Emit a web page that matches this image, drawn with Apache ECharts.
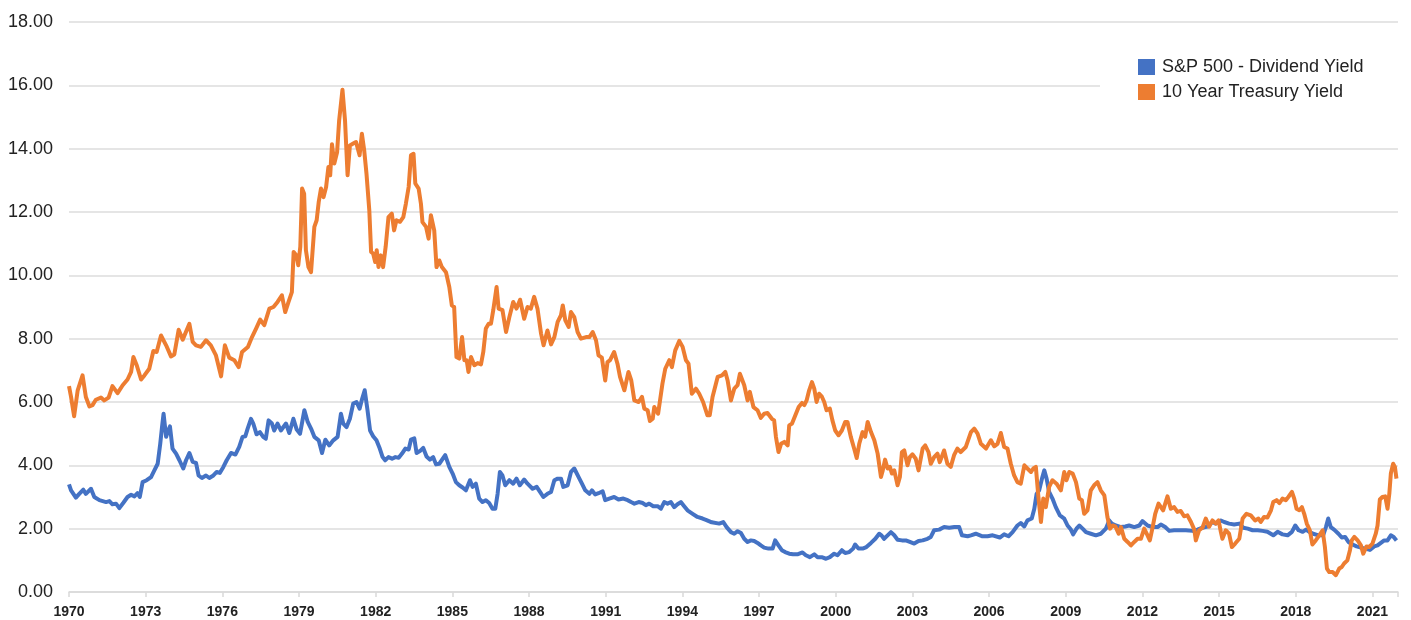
<!DOCTYPE html>
<html>
<head>
<meta charset="utf-8">
<title>S&amp;P 500 dividend yield vs 10 year treasury yield</title>
<script src="https://cdn.jsdelivr.net/npm/echarts@6/dist/echarts.min.js"></script>
<style>
  html, body { margin: 0; padding: 0; background: #fff; }
  #main { width: 1411px; height: 620px; }
</style>
</head>
<body>
<div id="main"></div>
<script>
// series names, as in the legend
var seriesNames = ['S&P 500 - Dividend Yield', '10 Year Treasury Yield'];

// x tick labels (every 3 years) and y tick labels
var yearTicks = [1970, 1973, 1976, 1979, 1982, 1985, 1988, 1991, 1994, 1997, 2000, 2003, 2006, 2009, 2012, 2015, 2018, 2021];
var yieldTicks = [0, 2, 4, 6, 8, 10, 12, 14, 16, 18];

// [year, value] pairs
var dividendYield = [
  [1970.0,3.4],[1970.08,3.21],[1970.27,2.98],[1970.4,3.1],[1970.56,3.23],[1970.66,3.1],[1970.86,3.26],[1970.99,3.0],
  [1971.19,2.9],[1971.45,2.84],[1971.58,2.87],[1971.7,2.77],[1971.84,2.79],[1971.97,2.65],[1972.12,2.81],[1972.29,3.0],
  [1972.43,3.07],[1972.56,3.02],[1972.68,3.12],[1972.77,3.0],[1972.88,3.47],[1973.04,3.53],[1973.21,3.63],[1973.34,3.84],
  [1973.47,4.05],[1973.57,4.68],[1973.64,5.21],[1973.7,5.63],[1973.8,4.9],[1973.86,5.05],[1973.95,5.23],[1974.05,4.53],
  [1974.19,4.37],[1974.32,4.16],[1974.47,3.9],[1974.58,4.16],[1974.71,4.39],[1974.84,4.11],[1974.97,4.08],[1975.07,3.68],
  [1975.2,3.6],[1975.36,3.68],[1975.49,3.6],[1975.65,3.68],[1975.78,3.79],[1975.9,3.76],[1976.04,3.95],[1976.17,4.16],
  [1976.34,4.39],[1976.51,4.34],[1976.66,4.58],[1976.79,4.9],[1976.9,4.92],[1976.99,5.16],[1977.12,5.47],[1977.21,5.32],
  [1977.34,4.98],[1977.47,5.05],[1977.6,4.9],[1977.7,4.84],[1977.81,5.42],[1977.94,5.32],[1978.03,5.1],[1978.16,5.32],
  [1978.29,5.1],[1978.49,5.32],[1978.62,5.02],[1978.78,5.47],[1978.91,5.13],[1979.04,5.0],[1979.21,5.74],[1979.34,5.37],
  [1979.47,5.16],[1979.6,4.9],[1979.77,4.79],[1979.9,4.39],[1980.03,4.81],[1980.18,4.63],[1980.34,4.79],[1980.51,4.9],
  [1980.64,5.63],[1980.73,5.32],[1980.86,5.21],[1980.99,5.47],[1981.12,5.95],[1981.25,6.0],[1981.37,5.79],[1981.47,6.1],
  [1981.57,6.37],[1981.68,5.74],[1981.78,5.1],[1981.9,4.92],[1982.03,4.79],[1982.16,4.53],[1982.27,4.26],[1982.37,4.16],
  [1982.5,4.26],[1982.64,4.21],[1982.77,4.26],[1982.9,4.24],[1983.03,4.37],[1983.16,4.53],[1983.29,4.5],[1983.38,4.81],
  [1983.51,4.85],[1983.6,4.39],[1983.73,4.45],[1983.86,4.55],[1983.99,4.28],[1984.12,4.18],[1984.25,4.26],[1984.36,4.03],
  [1984.49,4.05],[1984.72,4.32],[1984.88,3.95],[1985.01,3.74],[1985.14,3.47],[1985.27,3.37],[1985.4,3.3],[1985.53,3.21],
  [1985.69,3.53],[1985.79,3.32],[1985.92,3.42],[1986.05,2.95],[1986.18,2.84],[1986.31,2.9],[1986.44,2.81],[1986.57,2.63],
  [1986.68,2.63],[1986.77,3.1],[1986.86,3.79],[1986.96,3.68],[1987.07,3.37],[1987.23,3.53],[1987.38,3.42],[1987.51,3.58],
  [1987.64,3.37],[1987.81,3.55],[1987.94,3.42],[1988.14,3.26],[1988.3,3.32],[1988.43,3.16],[1988.56,3.0],[1988.72,3.1],
  [1988.86,3.16],[1988.99,3.53],[1989.12,3.58],[1989.25,3.58],[1989.34,3.32],[1989.51,3.37],[1989.64,3.79],[1989.77,3.9],
  [1989.94,3.63],[1990.07,3.42],[1990.2,3.21],[1990.36,3.1],[1990.46,3.21],[1990.59,3.08],[1990.72,3.12],[1990.88,3.18],
  [1990.98,2.9],[1991.14,2.95],[1991.33,3.0],[1991.5,2.92],[1991.69,2.95],[1991.86,2.9],[1991.99,2.84],[1992.12,2.79],
  [1992.29,2.84],[1992.45,2.81],[1992.57,2.74],[1992.7,2.79],[1992.86,2.71],[1993.03,2.71],[1993.16,2.63],[1993.29,2.84],
  [1993.42,2.79],[1993.55,2.84],[1993.68,2.68],[1993.81,2.77],[1993.94,2.84],[1994.07,2.71],[1994.2,2.58],[1994.4,2.47],
  [1994.59,2.37],[1994.79,2.32],[1994.92,2.28],[1995.15,2.2],[1995.44,2.16],[1995.6,2.21],[1995.73,2.05],[1995.9,1.89],
  [1996.03,1.84],[1996.16,1.92],[1996.29,1.86],[1996.42,1.68],[1996.55,1.58],[1996.68,1.63],[1996.81,1.61],[1996.94,1.55],
  [1997.07,1.47],[1997.2,1.4],[1997.37,1.37],[1997.53,1.37],[1997.63,1.63],[1997.76,1.47],[1997.89,1.32],[1998.02,1.26],
  [1998.18,1.21],[1998.33,1.19],[1998.5,1.19],[1998.7,1.25],[1998.83,1.16],[1998.99,1.1],[1999.16,1.19],[1999.29,1.1],
  [1999.45,1.1],[1999.62,1.05],[1999.77,1.1],[1999.94,1.21],[2000.07,1.16],[2000.24,1.32],[2000.37,1.23],[2000.53,1.26],
  [2000.68,1.37],[2000.76,1.5],[2000.89,1.37],[2001.05,1.37],[2001.2,1.42],[2001.38,1.55],[2001.55,1.68],[2001.7,1.84],
  [2001.79,1.79],[2001.89,1.68],[2002.03,1.79],[2002.16,1.89],[2002.29,1.79],[2002.42,1.65],[2002.59,1.63],[2002.74,1.63],
  [2002.9,1.58],[2003.07,1.53],[2003.24,1.61],[2003.4,1.63],[2003.59,1.68],[2003.72,1.74],[2003.85,1.95],[2004.05,1.97],
  [2004.24,2.05],[2004.44,2.03],[2004.64,2.05],[2004.83,2.05],[2004.94,1.79],[2005.16,1.76],[2005.29,1.79],[2005.48,1.84],
  [2005.74,1.76],[2005.94,1.76],[2006.14,1.79],[2006.42,1.72],[2006.59,1.82],[2006.76,1.76],[2006.92,1.89],[2007.11,2.1],
  [2007.24,2.18],[2007.38,2.07],[2007.5,2.26],[2007.67,2.32],[2007.77,2.63],[2007.86,3.1],[2007.96,3.21],[2008.07,3.58],
  [2008.16,3.84],[2008.25,3.58],[2008.35,3.16],[2008.48,2.95],[2008.61,2.68],[2008.77,2.42],[2008.94,2.32],[2009.07,2.1],
  [2009.2,1.97],[2009.29,1.82],[2009.42,2.0],[2009.53,2.1],[2009.66,2.0],[2009.79,1.89],[2009.98,1.84],[2010.18,1.79],
  [2010.37,1.84],[2010.57,2.0],[2010.7,2.26],[2010.8,2.16],[2010.96,2.1],[2011.16,2.05],[2011.33,2.07],[2011.48,2.1],
  [2011.68,2.05],[2011.88,2.1],[2012.0,2.24],[2012.2,2.1],[2012.4,2.05],[2012.59,2.05],[2012.72,2.13],[2012.89,2.05],
  [2013.05,1.93],[2013.24,1.95],[2013.43,1.95],[2013.7,1.95],[2013.96,1.93],[2014.15,1.97],[2014.35,2.03],[2014.54,2.07],
  [2014.74,2.21],[2014.87,2.16],[2015.07,2.26],[2015.2,2.21],[2015.39,2.16],[2015.59,2.13],[2015.79,2.16],[2015.95,2.03],
  [2016.12,2.0],[2016.31,1.95],[2016.51,1.95],[2016.7,1.93],[2016.89,1.9],[2017.12,1.79],[2017.29,1.9],[2017.48,1.82],
  [2017.68,1.79],[2017.85,1.9],[2017.98,2.1],[2018.11,1.95],[2018.27,1.9],[2018.4,1.97],[2018.53,1.9],[2018.68,1.84],
  [2018.89,1.79],[2019.07,1.79],[2019.18,2.05],[2019.27,2.32],[2019.37,2.05],[2019.5,1.97],[2019.67,1.84],[2019.8,1.72],
  [2019.93,1.74],[2020.06,1.58],[2020.22,1.5],[2020.38,1.44],[2020.55,1.4],[2020.72,1.37],[2020.9,1.33],[2021.07,1.44],
  [2021.2,1.47],[2021.33,1.55],[2021.46,1.63],[2021.59,1.63],[2021.72,1.79],[2021.83,1.74],[2021.94,1.63]
];

var treasuryYield = [
  [1970.0,6.5],[1970.08,6.16],[1970.2,5.55],[1970.34,6.37],[1970.53,6.84],[1970.66,6.16],[1970.8,5.86],[1970.92,5.9],
  [1971.05,6.07],[1971.25,6.14],[1971.38,6.05],[1971.55,6.14],[1971.7,6.5],[1971.9,6.28],[1972.1,6.53],[1972.29,6.71],
  [1972.43,6.95],[1972.52,7.42],[1972.65,7.16],[1972.82,6.71],[1972.95,6.84],[1973.14,7.05],[1973.3,7.61],[1973.43,7.58],
  [1973.6,8.1],[1973.8,7.79],[1973.99,7.44],[1974.12,7.5],[1974.29,8.28],[1974.45,7.97],[1974.71,8.47],[1974.84,7.9],
  [1974.97,7.79],[1975.16,7.74],[1975.36,7.95],[1975.55,7.79],[1975.75,7.47],[1975.95,6.81],[1976.1,7.79],[1976.27,7.4],
  [1976.47,7.32],[1976.64,7.1],[1976.77,7.58],[1977.0,7.74],[1977.16,8.05],[1977.32,8.32],[1977.48,8.6],[1977.64,8.43],
  [1977.84,8.95],[1978.0,9.0],[1978.16,9.16],[1978.33,9.37],[1978.46,8.84],[1978.59,9.16],[1978.72,9.47],[1978.79,10.74],
  [1978.9,10.63],[1978.97,10.32],[1979.05,10.9],[1979.12,12.74],[1979.2,12.58],[1979.27,10.79],[1979.37,10.26],[1979.47,10.1],
  [1979.6,11.53],[1979.69,11.74],[1979.77,12.31],[1979.86,12.74],[1979.96,12.47],[1980.06,12.79],[1980.15,13.42],[1980.22,13.16],
  [1980.29,14.14],[1980.38,13.53],[1980.49,13.89],[1980.57,14.89],[1980.7,15.86],[1980.8,14.89],[1980.9,13.16],[1980.99,14.1],
  [1981.12,14.16],[1981.23,14.21],[1981.37,13.79],[1981.46,14.47],[1981.55,13.95],[1981.64,13.21],[1981.75,12.05],[1981.82,10.74],
  [1981.9,10.69],[1981.98,10.42],[1982.04,10.79],[1982.11,10.26],[1982.2,10.63],[1982.29,10.26],[1982.39,10.9],[1982.5,11.84],
  [1982.63,11.95],[1982.72,11.42],[1982.81,11.74],[1982.95,11.69],[1983.08,11.84],[1983.18,12.26],[1983.29,12.79],[1983.38,13.79],
  [1983.48,13.84],[1983.55,12.9],[1983.68,12.74],[1983.77,12.26],[1983.83,11.68],[1983.97,11.53],[1984.07,11.16],[1984.16,11.9],
  [1984.29,11.42],[1984.38,10.26],[1984.49,10.47],[1984.59,10.26],[1984.75,10.1],[1984.88,9.63],[1984.98,9.05],[1985.07,9.0],
  [1985.16,7.42],[1985.27,7.37],[1985.38,8.05],[1985.47,7.32],[1985.56,7.32],[1985.63,6.95],[1985.73,7.42],[1985.86,7.16],
  [1985.99,7.23],[1986.12,7.19],[1986.21,7.58],[1986.31,8.32],[1986.42,8.47],[1986.51,8.47],[1986.6,8.9],[1986.73,9.63],
  [1986.81,8.95],[1986.96,8.9],[1987.1,8.21],[1987.23,8.68],[1987.38,9.16],[1987.51,8.95],[1987.65,9.23],[1987.81,8.63],
  [1987.94,9.0],[1988.07,8.95],[1988.2,9.32],[1988.33,8.95],[1988.47,8.16],[1988.57,7.79],[1988.72,8.26],[1988.86,7.82],
  [1988.99,8.05],[1989.12,8.53],[1989.25,8.74],[1989.32,9.05],[1989.42,8.58],[1989.55,8.37],[1989.64,8.84],[1989.77,8.68],
  [1989.9,8.21],[1990.03,8.0],[1990.23,8.05],[1990.36,8.05],[1990.49,8.21],[1990.62,7.95],[1990.72,7.47],[1990.85,7.4],
  [1990.98,6.68],[1991.07,7.26],[1991.17,7.32],[1991.33,7.58],[1991.46,7.21],[1991.56,6.79],[1991.73,6.37],[1991.89,6.95],
  [1992.0,6.68],[1992.12,6.05],[1992.29,6.0],[1992.42,6.16],[1992.51,5.79],[1992.64,5.74],[1992.73,5.4],[1992.84,5.47],
  [1992.9,5.84],[1993.05,5.63],[1993.12,5.68],[1993.22,6.58],[1993.33,7.05],[1993.49,7.32],[1993.59,7.1],[1993.72,7.63],
  [1993.88,7.93],[1994.01,7.74],[1994.14,7.32],[1994.24,7.21],[1994.37,6.26],[1994.53,6.42],[1994.66,6.26],[1994.81,6.0],
  [1994.98,5.58],[1995.07,5.58],[1995.18,6.16],[1995.38,6.79],[1995.55,6.84],[1995.68,6.95],[1995.77,6.68],[1995.9,6.05],
  [1996.03,6.42],[1996.16,6.53],[1996.25,6.89],[1996.42,6.53],[1996.55,6.05],[1996.64,6.32],[1996.78,5.84],[1996.94,5.74],
  [1997.07,5.5],[1997.2,5.63],[1997.33,5.65],[1997.5,5.47],[1997.59,5.42],[1997.66,4.9],[1997.76,4.42],[1997.86,4.68],
  [1997.99,4.74],[1998.12,4.63],[1998.18,5.26],[1998.29,5.32],[1998.42,5.58],[1998.55,5.84],[1998.68,5.97],[1998.77,5.9],
  [1998.86,6.05],[1998.96,6.37],[1999.07,6.63],[1999.16,6.42],[1999.25,6.0],[1999.35,6.26],[1999.45,6.18],[1999.55,6.0],
  [1999.64,5.74],[1999.77,5.79],[1999.87,5.42],[1999.98,5.1],[2000.11,4.95],[2000.24,5.1],[2000.37,5.37],[2000.46,5.37],
  [2000.59,4.9],[2000.72,4.53],[2000.82,4.23],[2000.92,4.68],[2001.05,5.05],[2001.15,4.9],[2001.25,5.37],[2001.38,5.05],
  [2001.51,4.79],[2001.64,4.37],[2001.77,3.63],[2001.84,3.84],[2001.93,4.18],[2002.03,3.9],[2002.12,3.95],[2002.2,3.74],
  [2002.29,3.84],[2002.42,3.37],[2002.51,3.63],[2002.59,4.42],[2002.68,4.47],[2002.81,4.0],[2002.9,4.26],[2003.0,4.35],
  [2003.13,4.21],[2003.24,3.84],[2003.4,4.53],[2003.5,4.63],[2003.63,4.42],[2003.72,4.05],[2003.85,4.26],[2003.98,4.37],
  [2004.07,4.1],[2004.24,4.47],[2004.37,4.05],[2004.5,3.95],[2004.63,4.32],[2004.76,4.53],[2004.89,4.42],[2005.09,4.58],
  [2005.29,5.05],[2005.42,5.16],[2005.55,5.0],[2005.68,4.68],[2005.88,4.53],[2006.07,4.79],[2006.2,4.6],[2006.33,4.68],
  [2006.46,5.02],[2006.59,4.58],[2006.72,4.53],[2006.85,4.05],[2006.98,3.68],[2007.11,3.47],[2007.24,3.42],[2007.38,4.0],
  [2007.5,3.9],[2007.64,3.79],[2007.73,3.9],[2007.83,3.95],[2007.93,3.0],[2008.03,2.21],[2008.12,2.95],[2008.22,2.68],
  [2008.35,3.32],[2008.48,3.53],[2008.64,3.42],[2008.81,3.21],[2008.94,3.79],[2009.03,3.53],[2009.14,3.79],[2009.27,3.74],
  [2009.4,3.47],[2009.53,2.95],[2009.63,2.9],[2009.72,2.47],[2009.85,2.58],[2009.98,3.21],[2010.11,3.37],[2010.24,3.47],
  [2010.37,3.21],[2010.51,3.05],[2010.63,2.37],[2010.73,2.0],[2010.83,2.1],[2010.94,2.07],[2011.07,1.84],[2011.16,2.05],
  [2011.29,1.68],[2011.42,1.58],[2011.55,1.47],[2011.68,1.58],[2011.81,1.68],[2011.94,1.68],[2012.07,2.0],[2012.2,1.79],
  [2012.29,1.63],[2012.4,2.05],[2012.5,2.47],[2012.63,2.79],[2012.81,2.58],[2012.98,3.02],[2013.11,2.63],[2013.24,2.68],
  [2013.37,2.53],[2013.5,2.56],[2013.63,2.39],[2013.76,2.42],[2013.9,2.21],[2014.03,1.97],[2014.09,1.63],[2014.22,1.95],
  [2014.35,2.03],[2014.48,2.32],[2014.61,2.06],[2014.74,2.26],[2014.87,2.16],[2014.98,2.26],[2015.07,1.89],[2015.13,1.68],
  [2015.26,1.95],[2015.39,1.84],[2015.5,1.42],[2015.63,1.53],[2015.79,1.68],[2015.92,2.32],[2016.07,2.47],[2016.24,2.42],
  [2016.41,2.26],[2016.54,2.32],[2016.63,2.21],[2016.76,2.37],[2016.89,2.35],[2017.03,2.58],[2017.12,2.84],[2017.25,2.9],
  [2017.36,2.81],[2017.48,2.95],[2017.61,2.9],[2017.71,3.0],[2017.85,3.16],[2017.94,2.95],[2018.03,2.63],[2018.14,2.58],
  [2018.24,2.68],[2018.33,2.47],[2018.43,2.16],[2018.55,1.95],[2018.65,1.5],[2018.78,1.63],[2018.92,1.79],[2019.05,1.95],
  [2019.14,1.42],[2019.22,0.74],[2019.31,0.63],[2019.44,0.63],[2019.57,0.53],[2019.7,0.74],[2019.8,0.79],[2019.89,0.9],
  [2020.02,1.0],[2020.12,1.32],[2020.19,1.63],[2020.29,1.74],[2020.42,1.63],[2020.55,1.47],[2020.64,1.21],[2020.77,1.44],
  [2020.87,1.42],[2021.0,1.53],[2021.13,1.84],[2021.2,2.1],[2021.29,2.92],[2021.39,3.0],[2021.5,3.02],[2021.59,2.63],
  [2021.66,3.1],[2021.72,3.74],[2021.81,4.05],[2021.88,3.95],[2021.94,3.58]
];

var font = "'Liberation Sans', Arial, sans-serif";

var myChart = echarts.init(document.getElementById('main'), null, { renderer: 'canvas' });
myChart.setOption({
  animation: false,
  backgroundColor: '#fff',
  color: ['#4472c4', '#ed7d31'],
  textStyle: { fontFamily: font },
  grid: { left: 69, right: 13, top: 22, bottom: 28 },
  legend: {
    data: seriesNames,
    orient: 'vertical',
    left: 1100,
    top: 29,
    padding: [29, 40, 15, 38],
    backgroundColor: '#fff',
    icon: 'rect',
    itemWidth: 17,
    itemHeight: 16,
    itemGap: 7,
    textStyle: { fontFamily: font, fontSize: 18, color: '#222', padding: [0, 0, 0, 2] }
  },
  xAxis: {
    type: 'value',
    min: yearTicks[0],
    max: 2022,
    interval: 3,
    axisLine: { show: true, lineStyle: { color: '#d9d9d9', width: 1.5 } },
    axisTick: { show: true, length: 5, lineStyle: { color: '#d9d9d9', width: 1.5 } },
    splitLine: { show: false },
    axisLabel: {
      margin: 13,
      fontFamily: font,
      fontSize: 14,
      fontWeight: 'bold',
      color: '#222',
      formatter: function (v) { return yearTicks.indexOf(v) >= 0 ? String(v) : ''; }
    }
  },
  yAxis: {
    type: 'value',
    min: yieldTicks[0],
    max: yieldTicks[yieldTicks.length - 1],
    interval: 2,
    axisLine: { show: false },
    axisTick: { show: false },
    splitLine: { lineStyle: { color: '#dcdcdc', width: 1.5 } },
    axisLabel: {
      margin: 16,
      fontFamily: font,
      fontSize: 18,
      color: '#222',
      formatter: function (v) { return v.toFixed(2); }
    }
  },
  series: [{
    name: seriesNames[0],
    type: 'line',
    data: dividendYield,
    showSymbol: false,
    symbol: 'none',
    lineStyle: { width: 4, join: 'round' }
  }, {
    name: seriesNames[1],
    type: 'line',
    data: treasuryYield,
    showSymbol: false,
    symbol: 'none',
    lineStyle: { width: 4, join: 'round' }
  }]
});
</script>
</body>
</html>
